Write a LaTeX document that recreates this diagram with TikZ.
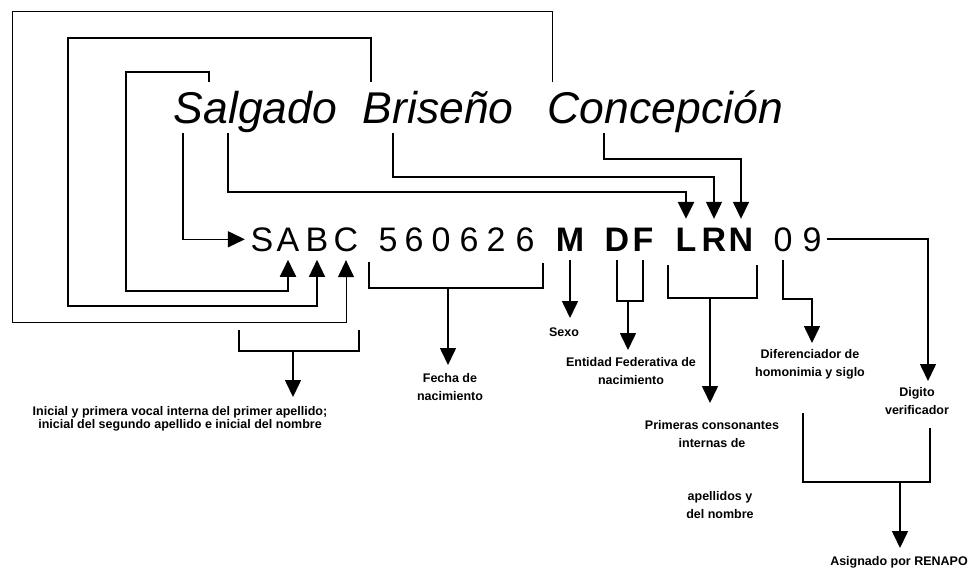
\documentclass[tikz,border=0pt]{standalone}
\usepackage{fontspec}
\setmainfont{Liberation Sans}
\usetikzlibrary{arrows.meta}
\begin{document}
\begin{tikzpicture}[x=1pt,y=-1pt,line width=1.6pt,
  tip/.style={-{Triangle[length=17pt,width=16pt]}},
  letra/.style={font=\fontsize{34}{34}\selectfont,inner xsep=5pt,inner ysep=8pt,anchor=base},
  letrab/.style={letra,font=\fontsize{34}{34}\selectfont\bfseries},
  palabra/.style={font=\fontsize{44.5}{44.5}\selectfont\itshape,inner sep=0pt,anchor=base west},
  lbl/.style={font=\fontsize{12.5}{18}\selectfont\bfseries,align=center,inner sep=0pt},
  lbltight/.style={lbl,font=\fontsize{12.5}{13}\selectfont\bfseries}]
\useasboundingbox (0,0) rectangle (972,570);
% the full name
\node[palabra] (ap1) at (173,123) {Salgado};
\node[palabra] (ap2) at (362,123) {Briseño};
\node[palabra] (nom) at (547,123) {Concepción};
\coordinate (t1) at (209,82);
\coordinate (t2) at (371,82);
\coordinate (t3) at (552,82);
\coordinate (b1) at (183,133);
\coordinate (b2) at (228,133);
\coordinate (b3) at (393,133);
\coordinate (b4) at (604,133);
% the code, one letter at a time
\node[letra] (S) at (262,251) {S};
\node[letra] (A) at (288,251) {A};
\node[letra] (B) at (317,251) {B};
\node[letra] (C) at (346,251) {C};
\node[letra] (d1) at (388,251) {5};
\node[letra] (d2) at (414,251) {6};
\node[letra] (d3) at (441,251) {0};
\node[letra] (d4) at (469,251) {6};
\node[letra] (d5) at (496,251) {2};
\node[letra] (d6) at (525,251) {6};
\node[letrab] (M) at (570,251) {M};
\node[letrab] (D) at (617,251) {D};
\node[letrab] (F) at (643,251) {F};
\node[letrab] (L) at (686,251) {L};
\node[letrab] (R) at (714,251) {R};
\node[letrab] (N) at (741,251) {N};
\node[letra] (h1) at (783,251) {0};
\node[letra] (h2) at (812,251) {9};
% name -> code
\draw[tip,line width=1pt] (t3) |- (12,11) -- (12,322) -| (C.south);
\draw[tip,line width=1.3pt] (t2) |- (68,38) -- (68,306) -| (B.south);
\draw[tip,line width=2pt] (t1) |- (126,72) -- (126,291) -| (A.south);
\draw[tip,line width=1.5pt] (b1) |- (S.west);
\draw[tip,line width=2.6pt] (b2) -- (228,192) -| (L.north);
\draw[tip,line width=1.3pt] (b3) -- (393,177) -| (R.north);
\draw[tip,line width=1.5pt] (b4) -- (604,159) -| (N.north);
% code -> meaning
\draw (239,330) |- (359,351) -- (359,330);
\draw[tip] (293,351) -- (293,397);
\draw (369,262) |- (543,288) -- (543,263);
\draw[tip] (448,288) -- (448,365);
\draw[tip] (M.south) -- (570,318);
\draw (D.south) -- ++(0,41) -| (F.south);
\draw[tip] (628,300) -- (628,350);
\draw (668,265) |- (757,298) -- (757,265);
\draw[tip] (710,298) -- (710,403);
\draw[tip] (h1.south) -- ++(0,39) -| (812,343);
\draw[tip] (h2.east) -| (928,381);
\draw (803,413) |- (930,482) -- (930,428);
\draw[tip] (900,482) -- (900,548);
% labels
\node[lbltight] (lsabc) at (180,419) {Inicial y primera vocal interna del primer apellido;\\inicial del segundo apellido e inicial del nombre};
\node[lbl] (lfecha) at (450,387) {Fecha de\\nacimiento};
\node[lbl] (lsexo) at (564,332) {Sexo};
\node[lbl] (lent) at (631,371) {Entidad Federativa de\\nacimiento};
\node[lbl] (ldif) at (810,364) {Diferenciador de\\homonimia y siglo};
\node[lbl] (lprim) at (712,434) {Primeras consonantes\\internas de};
\node[lbl] (lape) at (720,505) {apellidos y\\del nombre};
\node[lbl] (ldig) at (917,401) {Digito\\verificador};
\node[lbl] (lren) at (899,562) {Asignado por RENAPO};
\end{tikzpicture}
\end{document}
